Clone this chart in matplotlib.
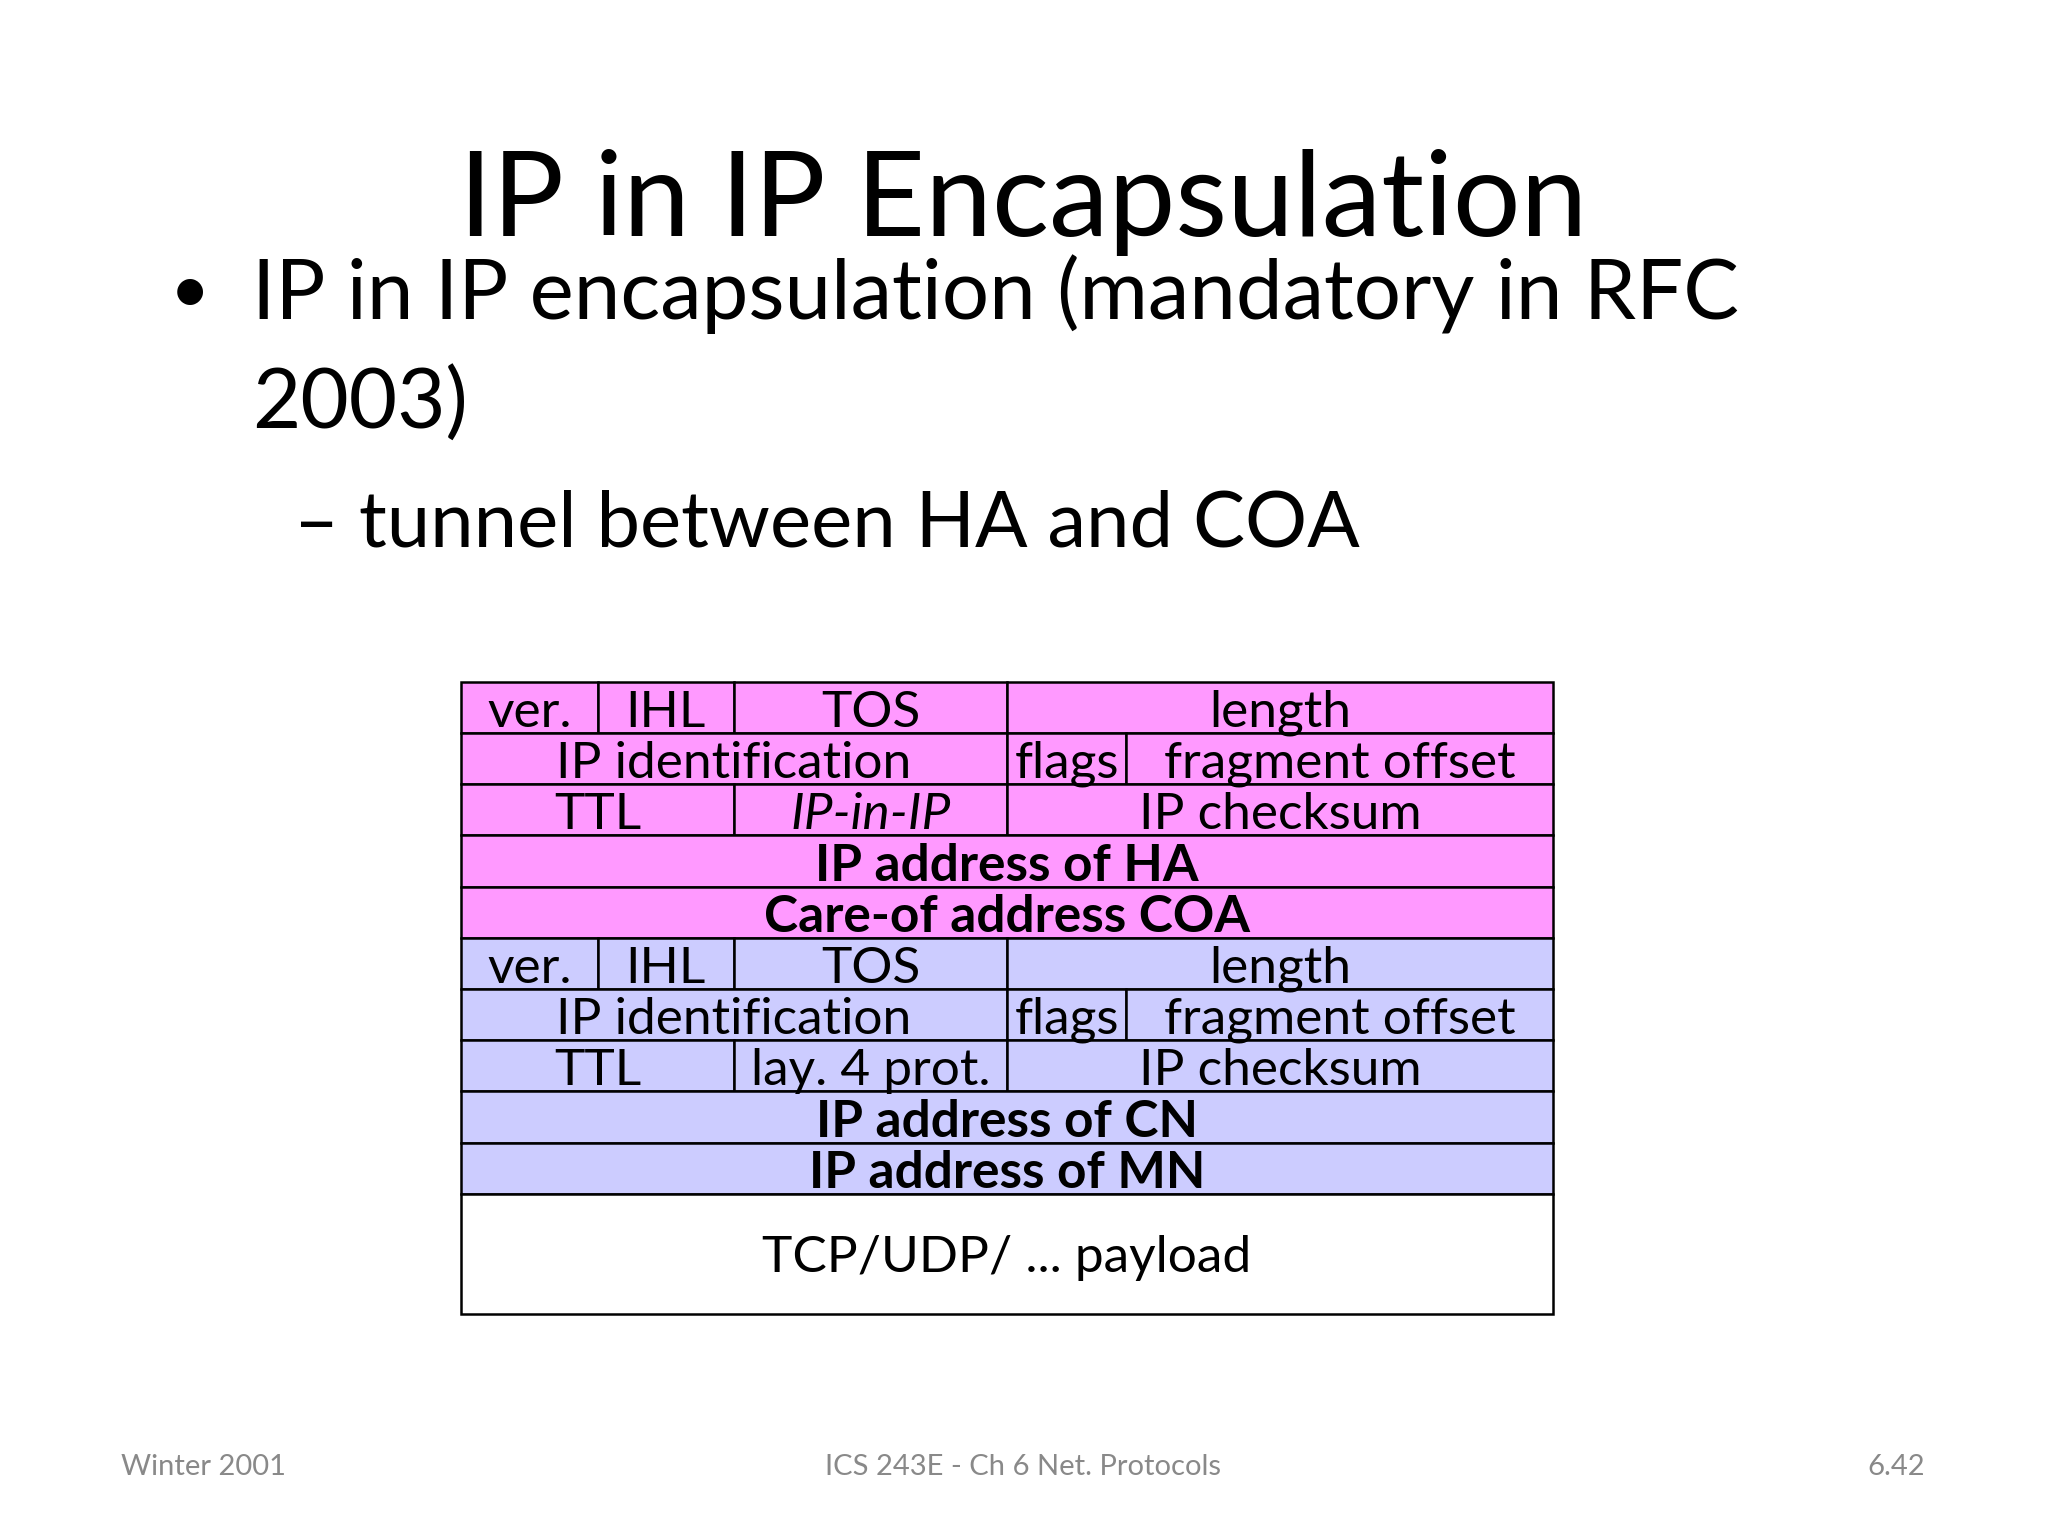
import matplotlib
matplotlib.use('Agg')
import matplotlib.pyplot as plt
from matplotlib.patches import Rectangle

plt.rcParams['font.family'] = ['Lato', 'DejaVu Sans']

# header rows: (label, width in bits, style)
outer_rows = [
    [("ver.", 4, "normal"), ("IHL", 4, "normal"), ("TOS", 8, "normal"), ("length", 16, "normal")],
    [("IP identification", 16, "normal"), ("flags", 3.5, "normal"), ("fragment offset", 12.5, "normal")],
    [("TTL", 8, "normal"), ("IP-in-IP", 8, "italic"), ("IP checksum", 16, "normal")],
    [("IP address of HA", 32, "bold")],
    [("Care-of address COA", 32, "bold")],
]
inner_rows = [
    [("ver.", 4, "normal"), ("IHL", 4, "normal"), ("TOS", 8, "normal"), ("length", 16, "normal")],
    [("IP identification", 16, "normal"), ("flags", 3.5, "normal"), ("fragment offset", 12.5, "normal")],
    [("TTL", 8, "normal"), ("lay. 4 prot.", 8, "normal"), ("IP checksum", 16, "normal")],
    [("IP address of CN", 32, "bold")],
    [("IP address of MN", 32, "bold")],
]
payload_label = "TCP/UDP/ ... payload"
outer_color = "#FF99FF"
inner_color = "#CCCCFF"

W, H = 1568, 1176
fig = plt.figure(figsize=(20.48, 15.36), dpi=100)
ax = fig.add_axes([0, 0, 1, 1])
ax.set_xlim(0, W)
ax.set_ylim(H, 0)
ax.axis('off')

ax.text(783, 155, "IP in IP Encapsulation", ha='center', va='center', fontsize=86, color='black')
ax.text(145, 225, "•", ha='center', va='center', fontsize=50)
ax.text(193, 225, "IP in IP encapsulation (mandatory in RFC", ha='left', va='center', fontsize=60)
ax.text(193, 310, "2003)", ha='left', va='center', fontsize=60)
ax.text(225, 402, "– tunnel between HA and COA", ha='left', va='center', fontsize=56)

x0, x1 = 353, 1189
bit = (x1 - x0) / 32
top, rh = 522, 39.2
y = top
for rows, color in [(outer_rows, outer_color), (inner_rows, inner_color)]:
    for row in rows:
        x = x0
        for label, bits, style in row:
            w = bits * bit
            ax.add_patch(Rectangle((x, y), w, rh, facecolor=color, edgecolor='black', lw=1.8))
            ax.text(x + w / 2, y + rh / 2 + 4, label, ha='center', va='center', fontsize=37,
                    fontweight='bold' if style == 'bold' else 'normal',
                    fontstyle='italic' if style == 'italic' else 'normal')
            x += w
        y += rh
ax.add_patch(Rectangle((x0, y), x1 - x0, 1006 - y, facecolor='white', edgecolor='black', lw=1.8))
ax.text((x0 + x1) / 2, (y + 1006) / 2 + 3, payload_label, ha='center', va='center', fontsize=37)

ax.text(93, 1123, "Winter 2001", ha='left', va='center', fontsize=21, color='#898989')
ax.text(783, 1123, "ICS 243E - Ch 6 Net. Protocols", ha='center', va='center', fontsize=21, color='#898989')
ax.text(1474, 1123, "6.42", ha='right', va='center', fontsize=21, color='#898989')

fig.savefig("out.png", dpi=100, facecolor='white')
